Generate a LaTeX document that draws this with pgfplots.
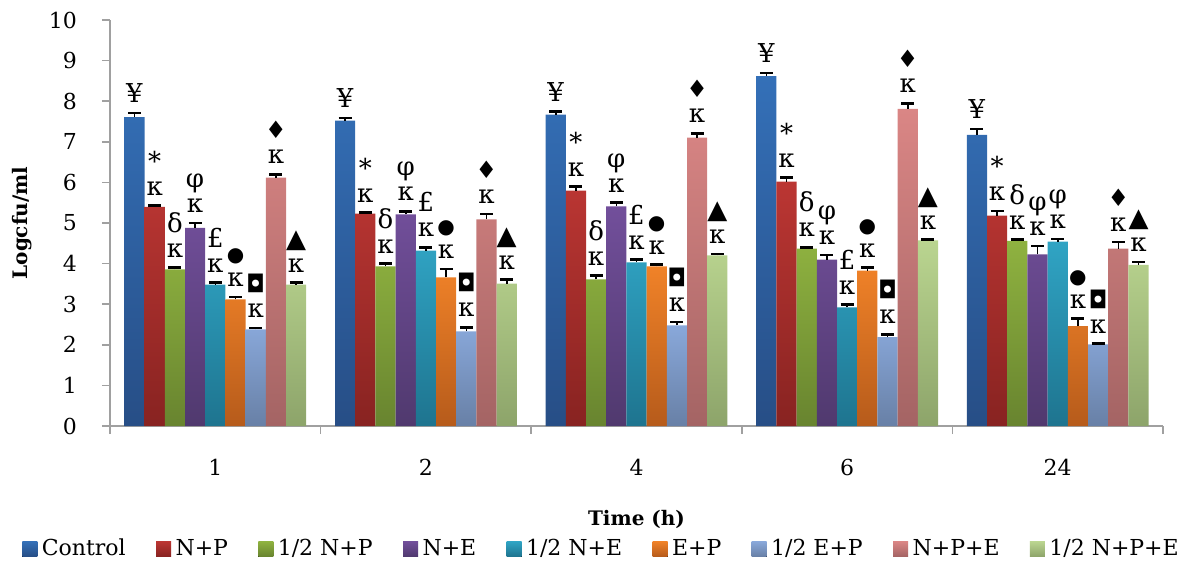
\documentclass[border=0pt]{standalone}
\usepackage{pgfplots}
\pgfplotsset{compat=1.18}
\usepackage{pgfplotstable}
\usepackage{fontspec}
\setmainfont{DejaVu Serif}
\newfontfamily\symf{DejaVu Sans}

\definecolor{axgray}{HTML}{A0A0A0}
\definecolor{c1t}{HTML}{3470B8}\definecolor{c1b}{HTML}{274E86}
\definecolor{c2t}{HTML}{BB3633}\definecolor{c2b}{HTML}{882321}
\definecolor{c3t}{HTML}{8FB240}\definecolor{c3b}{HTML}{68842F}
\definecolor{c4t}{HTML}{724F9B}\definecolor{c4b}{HTML}{50396E}
\definecolor{c5t}{HTML}{30A4C4}\definecolor{c5b}{HTML}{1E748F}
\definecolor{c6t}{HTML}{F08228}\definecolor{c6b}{HTML}{B65B1B}
\definecolor{c7t}{HTML}{89A8DA}\definecolor{c7b}{HTML}{6880A6}
\definecolor{c8t}{HTML}{DA8685}\definecolor{c8b}{HTML}{A46464}
\definecolor{c9t}{HTML}{BAD590}\definecolor{c9b}{HTML}{8DA46A}

\pgfplotstableread{
x y e
0 7.61 0.10
1 7.52 0.07
2 7.67 0.07
3 8.62 0.07
4 7.17 0.15
}\tA
\pgfplotstableread{
x y e
0 5.40 0.03
1 5.23 0.03
2 5.80 0.10
3 6.02 0.10
4 5.18 0.12
}\tB
\pgfplotstableread{
x y e
0 3.86 0.04
1 3.93 0.07
2 3.61 0.09
3 4.37 0.03
4 4.56 0.03
}\tC
\pgfplotstableread{
x y e
0 4.88 0.12
1 5.21 0.08
2 5.41 0.09
3 4.10 0.11
4 4.23 0.20
}\tD
\pgfplotstableread{
x y e lab
0 3.48 0.05 £
1 4.32 0.08 £
2 4.03 0.07 £
3 2.92 0.07 £
4 4.54 0.07 φ
}\tE
\pgfplotstableread{
x y e
0 3.12 0.06
1 3.66 0.21
2 3.93 0.05
3 3.83 0.07
4 2.46 0.19
}\tF
\pgfplotstableread{
x y e
0 2.38 0.03
1 2.33 0.10
2 2.48 0.08
3 2.19 0.07
4 2.01 0.02
}\tG
\pgfplotstableread{
x y e
0 6.12 0.08
1 5.09 0.13
2 7.10 0.11
3 7.81 0.14
4 4.37 0.16
}\tH
\pgfplotstableread{
x y e
0 3.48 0.05
1 3.51 0.10
2 4.20 0.04
3 4.57 0.02
4 3.97 0.07
}\tI

\pgfplotsset{
  mybar/.style 2 args={draw=none, top color=#1, bottom color=#2,
    legend image code/.code={\fill[top color=#1, bottom color=#2, draw=none] (0pt,-3.75pt) rectangle (7.5pt,3.75pt);},
    error bars/y dir=plus, error bars/y explicit,
    error bars/error bar style={black, line width=0.8pt},
    error bars/error mark options={rotate=90, mark size=3.25pt, black, line width=1.3pt},
    visualization depends on={\thisrow{e} \as \eb},
    every node near coord/.append style={font=\fontsize{13}{12.5}\selectfont, text=black, align=center, inner sep=0pt, anchor=south, yshift={\eb*20.3pt+5pt}},
  },
}

\begin{document}
\begin{tikzpicture}
\begin{axis}[name=ax,
  scale only axis, width=526.5pt, height=203pt,
  xmin=-0.5, xmax=4.5, ymin=0, ymax=10,
  ybar=0pt, bar width=10.1pt,
  axis x line*=bottom, axis y line*=left,
  axis line style={draw=axgray, line width=0.75pt, -},
  xtick={0,...,4}, xticklabels={1,2,4,6,24},
  major x tick style={draw=none},
  minor xtick={-0.5,0.5,1.5,2.5,3.5,4.5},
  ytick={0,...,10},
  tick align=outside, major tick length=4pt, minor tick length=4pt,
  tick style={draw=axgray, line width=0.75pt},
  ticklabel style={font=\fontsize{11}{13}\selectfont},
  /pgf/number format/assume math mode=true,
  xticklabel style={yshift=-9pt},
  yticklabel style={xshift=-9pt},
  xlabel={Time (h)}, ylabel={Logcfu/ml},
  xlabel style={font=\fontsize{10}{12}\selectfont\bfseries, at={(axis description cs:0.5,-0.229)}, anchor=center},
  ylabel style={font=\fontsize{10}{12}\selectfont\bfseries, at={(axis description cs:-0.0836,0.5)}, anchor=center},
  legend columns=9,
  legend style={at={(0.468,-0.303)}, anchor=center, draw=none, font=\fontsize{11}{13}\selectfont,
    /tikz/every even column/.append style={column sep=13pt}, inner sep=0pt,
    nodes={inner sep=2.2pt}},
  clip=false,
]
\addplot[mybar={c1t}{c1b}, nodes near coords={¥}] table[x=x,y=y,y error=e] {\tA};
\addplot[mybar={c2t}{c2b}, nodes near coords={*\\κ}] table[x=x,y=y,y error=e] {\tB};
\addplot[mybar={c3t}{c3b}, nodes near coords={δ\\κ}] table[x=x,y=y,y error=e] {\tC};
\addplot[mybar={c4t}{c4b}, nodes near coords={φ\\κ}] table[x=x,y=y,y error=e] {\tD};
\addplot[mybar={c5t}{c5b}, point meta=explicit symbolic, nodes near coords={\pgfplotspointmeta\\κ}] table[x=x,y=y,y error=e,meta=lab] {\tE};
\addplot[mybar={c6t}{c6b}, nodes near coords={{\symf\fontsize{10}{12.5}\selectfont ●}\\κ}] table[x=x,y=y,y error=e] {\tF};
\addplot[mybar={c7t}{c7b}, nodes near coords={{\symf\fontsize{12}{12.5}\selectfont ◘}\\κ}] table[x=x,y=y,y error=e] {\tG};
\addplot[mybar={c8t}{c8b}, nodes near coords={{\symf\fontsize{12}{12.5}\selectfont ♦}\\κ}] table[x=x,y=y,y error=e] {\tH};
\addplot[mybar={c9t}{c9b}, nodes near coords={{\symf\fontsize{13}{12.5}\selectfont ▲}\\κ}] table[x=x,y=y,y error=e] {\tI};
\legend{Control, N+P, 1/2 N+P, N+E, 1/2 N+E, E+P, 1/2 E+P, N+P+E, 1/2 N+P+E}
\end{axis}
\pgfresetboundingbox
\path[use as bounding box] ([xshift=-55pt,yshift=-68.5pt]ax.south west) rectangle ([xshift=16pt,yshift=10pt]ax.north east);
\end{tikzpicture}
\end{document}
